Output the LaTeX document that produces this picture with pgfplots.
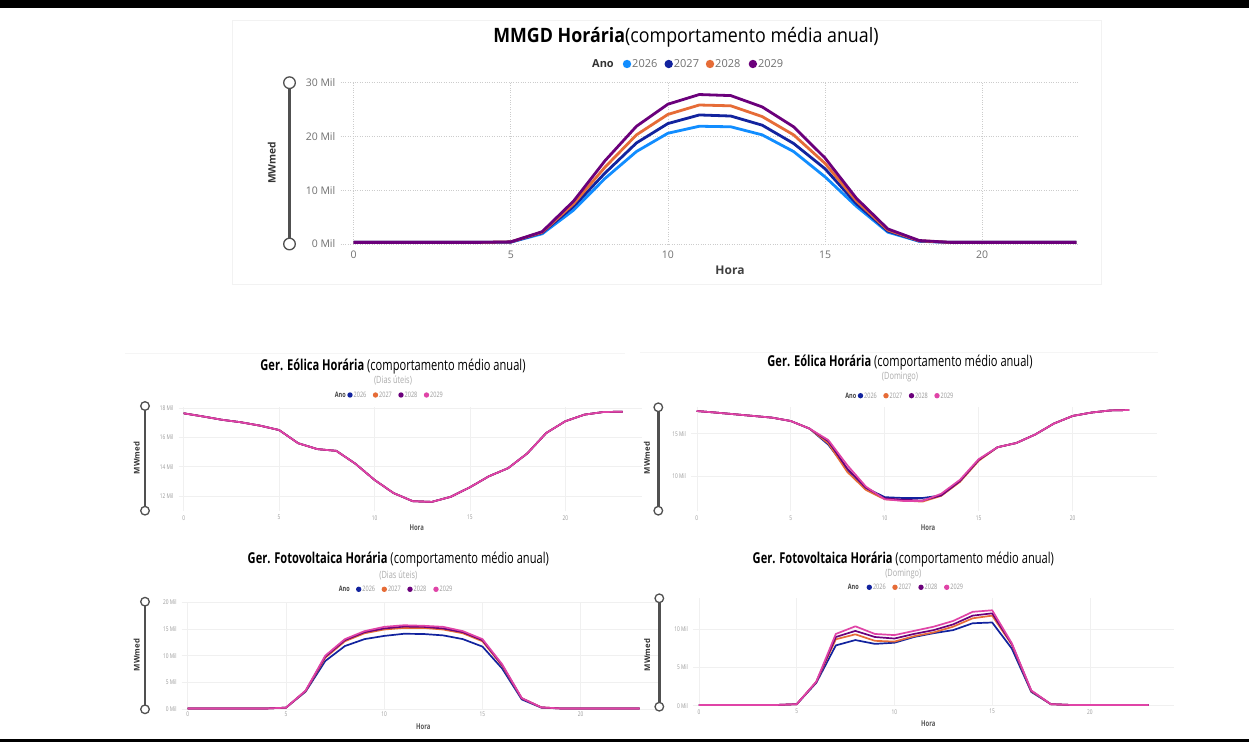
\documentclass[border=0pt]{standalone}
\usepackage{pgfplots}
\pgfplotsset{compat=1.18}
\usepackage{pgfplotstable}
\usepackage{fontspec}
\setmainfont{Open Sans}
\newfontfamily\pbt[FakeStretch=0.9]{Open Sans}
\newfontfamily\pbn{Open Sans}
\newfontfamily\pbs[FakeStretch=0.74]{Open Sans}
\newcommand{\fs}[1]{\fontsize{#1}{#1}\selectfont}
\definecolor{ta}{HTML}{118DFF}
\definecolor{tb}{HTML}{12239E}
\definecolor{tc}{HTML}{E66C37}
\definecolor{td}{HTML}{6B007B}
\definecolor{te}{HTML}{E044A7}
\definecolor{sl}{HTML}{505050}
\definecolor{tk}{HTML}{707070}
\definecolor{tkl}{HTML}{9A9A9A}

% MMGD horaria
\pgfplotstableread{
h a b c d
0 0.3 0.3 0.3 0.3
1 0.3 0.3 0.3 0.3
2 0.3 0.3 0.3 0.3
3 0.3 0.3 0.3 0.3
4 0.3 0.3 0.3 0.3
5 0.35 0.35 0.4 0.4
6 1.9 2.1 2.2 2.3
7 6.3 7.0 7.5 8.0
8 12.2 13.2 14.3 15.5
9 17.2 18.8 20.3 21.9
10 20.6 22.4 24.1 26.0
11 21.9 24.0 25.85 27.8
12 21.8 23.8 25.7 27.6
13 20.3 22.1 23.7 25.5
14 17.2 18.7 20.3 21.8
15 12.5 14.0 15.0 16.0
16 7.0 7.5 8.0 8.5
17 2.2 2.4 2.6 2.8
18 0.5 0.55 0.6 0.65
19 0.3 0.3 0.3 0.3
20 0.3 0.3 0.3 0.3
21 0.3 0.3 0.3 0.3
22 0.3 0.3 0.3 0.3
23 0.3 0.3 0.3 0.3
}\mmgd

% Eolica dias uteis
\pgfplotstableread{
h a b c d
0 17.64 17.64 17.64 17.64
1 17.43 17.43 17.43 17.43
2 17.2 17.2 17.2 17.2
3 17.03 17.03 17.03 17.03
4 16.8 16.8 16.8 16.8
5 16.5 16.5 16.5 16.5
6 15.6 15.6 15.6 15.6
7 15.2 15.2 15.2 15.2
8 15.08 15.08 15.08 15.08
9 14.2 14.2 14.2 14.2
10 13.1 13.1 13.1 13.1
11 12.2 12.2 12.2 12.2
12 11.65 11.65 11.65 11.65
13 11.6 11.6 11.6 11.6
14 11.95 11.95 11.95 11.95
15 12.6 12.6 12.6 12.6
16 13.35 13.35 13.35 13.35
17 13.9 13.9 13.9 13.9
18 14.9 14.9 14.9 14.9
19 16.3 16.3 16.3 16.3
20 17.1 17.1 17.1 17.1
21 17.55 17.55 17.55 17.55
22 17.73 17.73 17.73 17.73
23 17.75 17.75 17.75 17.75
}\eolu

% Eolica domingo
\pgfplotstableread{
h a b c d
0 17.68 17.68 17.68 17.68
1 17.5 17.5 17.5 17.5
2 17.3 17.3 17.3 17.3
3 17.1 17.1 17.1 17.1
4 16.9 16.9 16.9 16.9
5 16.5 16.5 16.5 16.5
6 15.6 15.6 15.6 15.6
7 13.7 13.85 14.1 14.25
8 10.8 10.5 10.9 11.3
9 8.6 8.35 8.6 8.75
10 7.5 7.25 7.35 7.25
11 7.4 7.1 7.2 7.05
12 7.4 6.97 7.1 7.05
13 7.7 7.65 7.7 7.9
14 9.4 9.3 9.4 9.55
15 11.9 11.8 11.9 12.0
16 13.4 13.4 13.4 13.4
17 13.9 13.9 13.9 13.9
18 14.9 14.9 14.9 14.9
19 16.2 16.2 16.2 16.2
20 17.1 17.1 17.1 17.1
21 17.5 17.5 17.5 17.5
22 17.75 17.75 17.75 17.75
23 17.8 17.8 17.8 17.8
}\eold

% Fotovoltaica dias uteis
\pgfplotstableread{
h a b c d
0 0.1 0.1 0.1 0.1
1 0.1 0.1 0.1 0.1
2 0.1 0.1 0.1 0.1
3 0.1 0.1 0.1 0.1
4 0.1 0.1 0.1 0.1
5 0.25 0.25 0.25 0.25
6 3.25 3.35 3.4 3.45
7 9.0 9.6 9.8 10.0
8 11.8 12.7 12.9 13.1
9 13.1 14.2 14.4 14.6
10 13.7 14.9 15.1 15.4
11 14.1 15.2 15.45 15.7
12 14.06 15.2 15.4 15.6
13 13.8 14.9 15.1 15.4
14 13.1 14.2 14.4 14.6
15 11.7 12.7 12.9 13.1
16 7.6 8.1 8.25 8.4
17 1.8 2.0 2.0 2.05
18 0.25 0.3 0.3 0.3
19 0.1 0.1 0.1 0.1
20 0.1 0.1 0.1 0.1
21 0.1 0.1 0.1 0.1
22 0.1 0.1 0.1 0.1
23 0.1 0.1 0.1 0.1
}\pvu

% Fotovoltaica domingo
\pgfplotstableread{
h a b c d
0 0.1 0.1 0.1 0.1
1 0.1 0.1 0.1 0.1
2 0.1 0.1 0.1 0.1
3 0.1 0.1 0.1 0.1
4 0.1 0.1 0.1 0.1
5 0.2 0.2 0.2 0.2
6 3.0 3.1 3.1 3.15
7 7.9 8.7 9.0 9.4
8 8.6 9.35 9.8 10.4
9 8.1 8.5 9.0 9.4
10 8.25 8.4 8.8 9.25
11 9.0 9.1 9.4 9.8
12 9.5 9.6 9.9 10.35
13 9.9 10.35 10.65 11.1
14 10.8 11.45 11.8 12.3
15 10.9 11.8 12.1 12.5
16 7.5 8.0 8.1 8.2
17 1.8 1.9 1.95 2.0
18 0.2 0.2 0.2 0.2
19 0.1 0.1 0.1 0.1
20 0.1 0.1 0.1 0.1
21 0.1 0.1 0.1 0.1
22 0.1 0.1 0.1 0.1
23 0.1 0.1 0.1 0.1
}\pvd

\pgfplotsset{
  pbi/.style={scale only axis, anchor=south west,
    /pgf/number format/assume math mode=true,
    axis line style={draw=none}, major tick length=0pt,
    xtick={0,5,10,15,20}, grid=major,
    every axis plot/.append style={mark=none, line join=round}},
  topax/.style={pbi, grid style={dotted, gray!40, line width=0.7pt},
    xticklabel style={font=\pbn\fs{10.5}, text=tk, anchor=center, yshift=-11pt},
    yticklabel style={font=\pbn\fs{10.5}, text=tk, anchor=east, inner sep=0pt, xshift=-5pt},
    every axis plot/.append style={line width=2.8pt}},
  botax/.style={pbi, grid style={gray!12, line width=0.5pt},
    xticklabel style={font=\pbs\fs{6.5}, text=tkl, anchor=center, yshift=-#1pt},
    yticklabel style={font=\pbs\fs{6.5}, text=tkl, anchor=east, inner sep=0pt, xshift=-5pt},
    every axis plot/.append style={line width=1.7pt}},
}

\newcommand{\slider}[5]{%
  \draw[line width=#5, sl] (#1,{742-#2}) -- (#1,{742-#3});
  \draw[line width=1.3pt, sl, fill=white] (#1,{742-#2}) circle (#4);
  \draw[line width=1.3pt, sl, fill=white] (#1,{742-#3}) circle (#4);}

\begin{document}
\begin{tikzpicture}[x=1pt,y=1pt]
\path[use as bounding box] (0,0) rectangle (1249,742);
\fill[white] (0,0) rectangle (1249,742);
\fill[black] (0,734) rectangle (1249,742);
\fill[black] (0,0) rectangle (1249,3.5);
% faint panel frames
\draw[gray!10, line width=0.8pt] (232,458) rectangle (1101,722);
\draw[gray!8, line width=0.8pt] (125,389) -- (625,389);
\draw[gray!8, line width=0.8pt] (640,389.5) -- (1158,389.5);

% ---------------- MMGD ----------------
\begin{axis}[topax, at={(340.5pt,498pt)}, width=739pt, height=161.3pt,
  xmin=-0.42, xmax=23.1, ymin=0, ymax=30,
  ytick={0,10,20,30}, yticklabels={0 Mil,10 Mil,20 Mil,30 Mil}]
\addplot[ta] table[x=h,y=a] {\mmgd};
\addplot[tb] table[x=h,y=b] {\mmgd};
\addplot[tc] table[x=h,y=c] {\mmgd};
\addplot[td] table[x=h,y=d] {\mmgd};
\end{axis}
\slider{289.5}{82.7}{244}{5.8pt}{3pt}
\node[font=\pbt\fs{19.8}, text=black, inner sep=0pt] at (686,705) {\textbf{MMGD Horária}(comportamento média anual)};
\node[font=\pbn\fs{11}\bfseries, text=black!80, anchor=east, inner sep=0pt] at (614,678) {Ano};
\foreach \cx/\cc/\yy in {627/ta/2026,668.7/tb/2027,710/tc/2028,752.9/td/2029}{
  \fill[\cc] (\cx,678) circle (4.2pt);
  \node[font=\pbn\fs{11}, text=tk, anchor=west, inner sep=0pt] at (\cx+5,678) {\yy};}
\node[font=\pbn\fs{12}\bfseries, text=black!75, inner sep=0pt] at (730,472) {Hora};
\node[font=\pbn\fs{10.2}\bfseries, text=black!80, rotate=90, inner sep=0pt] at (271.8,579) {MWmed};

% ---------------- Eolica dias uteis ----------------
\begin{axis}[botax=7, at={(178.5pt,231.3pt)}, width=463.2pt, height=103.4pt,
  xmin=-0.27, xmax=24, ymin=11, ymax=18.05,
  ytick={12,14,16,18}, yticklabels={12 Mil,14 Mil,16 Mil,18 Mil}]
\addplot[tb] table[x=h,y=a] {\eolu};
\addplot[tc] table[x=h,y=b] {\eolu};
\addplot[td] table[x=h,y=c] {\eolu};
\addplot[te] table[x=h,y=d] {\eolu};
\end{axis}
\slider{145}{406}{510.7}{4.3pt}{2.4pt}
\node[font=\pbs\fs{15}, inner sep=0pt] at (393,{742-366.7}) {\textbf{Ger. Eólica Horária} (comportamento médio anual)};
\node[font=\pbs\fs{10}, text=gray!65, inner sep=0pt] at (393,{742-380.5}) {(Dias úteis)};
\node[font=\pbs\fs{7.5}\bfseries, text=black!75, anchor=east, inner sep=0pt] at (346,347) {Ano};
\foreach \cx/\cc/\yy in {350/tb/2026,375.5/tc/2027,401/td/2028,426.5/te/2029}{
  \fill[\cc] (\cx,347) circle (2.7pt);
  \node[font=\pbs\fs{7.5}, text=tkl, anchor=west, inner sep=0pt] at (\cx+3.5,347) {\yy};}
\node[font=\pbs\fs{8}\bfseries, text=black!65, inner sep=0pt] at (416.7,{742-527.7}) {Hora};
\node[font=\pbn\fs{7.8}\bfseries, text=black!80, rotate=90, inner sep=0pt] at (136.7,{742-458}) {MWmed};

% ---------------- Eolica domingo ----------------
\begin{axis}[botax=7.6, at={(691.1pt,231.3pt)}, width=466.2pt, height=103.4pt,
  xmin=-0.3, xmax=24.5, ymin=5.9, ymax=18.12,
  ytick={10,15}, yticklabels={10 Mil,15 Mil}]
\addplot[tb] table[x=h,y=a] {\eold};
\addplot[tc] table[x=h,y=b] {\eold};
\addplot[td] table[x=h,y=c] {\eold};
\addplot[te] table[x=h,y=d] {\eold};
\end{axis}
\slider{658.3}{407.3}{510.7}{4.3pt}{2.4pt}
\node[font=\pbs\fs{15}, inner sep=0pt] at (900,{742-362.3}) {\textbf{Ger. Eólica Horária} (comportamento médio anual)};
\node[font=\pbs\fs{10}, text=gray!65, inner sep=0pt] at (900,{742-377.3}) {(Domingo)};
\node[font=\pbs\fs{7.5}\bfseries, text=black!75, anchor=east, inner sep=0pt] at (856.5,346.3) {Ano};
\foreach \cx/\cc/\yy in {860.5/tb/2026,886/tc/2027,911.5/td/2028,937/te/2029}{
  \fill[\cc] (\cx,346.3) circle (2.7pt);
  \node[font=\pbs\fs{7.5}, text=tkl, anchor=west, inner sep=0pt] at (\cx+3.5,346.3) {\yy};}
\node[font=\pbs\fs{8}\bfseries, text=black!65, inner sep=0pt] at (928,{742-527.7}) {Hora};
\node[font=\pbn\fs{7.8}\bfseries, text=black!80, rotate=90, inner sep=0pt] at (647,{742-458}) {MWmed};

% ---------------- Fotovoltaica dias uteis ----------------
\begin{axis}[botax=5.3, at={(181.8pt,33pt)}, width=477.5pt, height=106.7pt,
  xmin=-0.3, xmax=24, ymin=0, ymax=20,
  ytick={0,5,10,15,20}, yticklabels={0 Mil,5 Mil,10 Mil,15 Mil,20 Mil}]
\addplot[tb] table[x=h,y=a] {\pvu};
\addplot[tc] table[x=h,y=b] {\pvu};
\addplot[td] table[x=h,y=c] {\pvu};
\addplot[te] table[x=h,y=d] {\pvu};
\end{axis}
\slider{145}{601.7}{709.3}{4.3pt}{2.4pt}
\node[font=\pbs\fs{15}, inner sep=0pt] at (398.3,{742-560}) {\textbf{Ger. Fotovoltaica Horária} (comportamento médio anual)};
\node[font=\pbs\fs{10}, text=gray!65, inner sep=0pt] at (398.3,{742-575}) {(Dias úteis)};
\node[font=\pbs\fs{7.5}\bfseries, text=black!75, anchor=east, inner sep=0pt] at (350,152.7) {Ano};
\foreach \cx/\cc/\yy in {358.7/tb/2026,384.3/tc/2027,410/td/2028,436/te/2029}{
  \fill[\cc] (\cx,152.7) circle (2.7pt);
  \node[font=\pbs\fs{7.5}, text=tkl, anchor=west, inner sep=0pt] at (\cx+3.5,152.7) {\yy};}
\node[font=\pbs\fs{8}\bfseries, text=black!65, inner sep=0pt] at (423.3,{742-726.7}) {Hora};
\node[font=\pbn\fs{7.8}\bfseries, text=black!80, rotate=90, inner sep=0pt] at (136.7,{742-655}) {MWmed};

% ---------------- Fotovoltaica domingo ----------------
\begin{axis}[botax=6, at={(693.1pt,36.3pt)}, width=480.9pt, height=107.4pt,
  xmin=-0.3, xmax=24.3, ymin=0, ymax=14.07,
  ytick={0,5,10}, yticklabels={0 Mil,5 Mil,10 Mil}]
\addplot[tb] table[x=h,y=a] {\pvd};
\addplot[tc] table[x=h,y=b] {\pvd};
\addplot[td] table[x=h,y=c] {\pvd};
\addplot[te] table[x=h,y=d] {\pvd};
\end{axis}
\slider{659.3}{598.3}{706.7}{4.3pt}{2.4pt}
\node[font=\pbs\fs{15}, inner sep=0pt] at (903.3,{742-560}) {\textbf{Ger. Fotovoltaica Horária} (comportamento médio anual)};
\node[font=\pbs\fs{10}, text=gray!65, inner sep=0pt] at (903.3,{742-574}) {(Domingo)};
\node[font=\pbs\fs{7.5}\bfseries, text=black!75, anchor=east, inner sep=0pt] at (859,154.7) {Ano};
\foreach \cx/\cc/\yy in {869.3/tb/2026,895/tc/2027,921/td/2028,946.7/te/2029}{
  \fill[\cc] (\cx,154.7) circle (2.7pt);
  \node[font=\pbs\fs{7.5}, text=tkl, anchor=west, inner sep=0pt] at (\cx+3.5,154.7) {\yy};}
\node[font=\pbs\fs{8}\bfseries, text=black!65, inner sep=0pt] at (928.3,{742-723.3}) {Hora};
\node[font=\pbn\fs{7.8}\bfseries, text=black!80, rotate=90, inner sep=0pt] at (647.3,{742-655}) {MWmed};
\end{tikzpicture}
\end{document}
